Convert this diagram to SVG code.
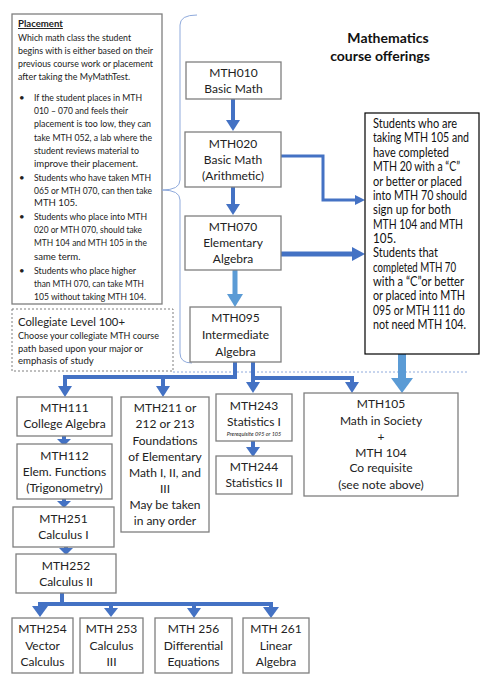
<svg xmlns="http://www.w3.org/2000/svg" width="488" height="681" viewBox="0 0 488 681">
<defs>
<style>
.box{fill:#fff;stroke:#7f7f7f;stroke-width:1.3}
.t{font-family:Lato,"Liberation Sans",sans-serif;font-size:12px;fill:#222;text-anchor:middle}
.p{font-family:Lato,"Liberation Sans",sans-serif;font-size:9.6px;fill:#222}
.n{font-family:Lato,"Liberation Sans",sans-serif;font-size:12.4px;fill:#111}
.dk{stroke:#4472c4;fill:none}
.lt{stroke:#5b9bd5;fill:none}
.hd{fill:#4472c4}
.hl{fill:#5b9bd5}
</style>
</defs>
<rect width="488" height="681" fill="#fff"/>

<g id="title">
<text x="388" y="43" font-family="Lato,'Liberation Sans',sans-serif" font-weight="bold" font-size="14" text-anchor="middle" fill="#111">Mathematics</text>
<text x="380" y="61" font-family="Lato,'Liberation Sans',sans-serif" font-weight="bold" font-size="14" text-anchor="middle" fill="#111">course offerings</text>
</g>

<g id="placement">
<rect x="12" y="14" width="150" height="290" class="box"/>
<text x="18" y="27" class="p" font-weight="bold" text-decoration="underline">Placement</text>
<text class="p" x="18" y="41" textLength="113" lengthAdjust="spacingAndGlyphs">Which math class the student</text>
<text class="p" x="18" y="54" textLength="135" lengthAdjust="spacingAndGlyphs">begins with is either based on their</text>
<text class="p" x="18" y="67" textLength="135" lengthAdjust="spacingAndGlyphs">previous course work or placement</text>
<text class="p" x="18" y="80" textLength="112" lengthAdjust="spacingAndGlyphs">after taking the MyMathTest.</text>
<g class="p">
<text x="19" y="101">•</text><text x="19" y="181">•</text><text x="19" y="220">•</text><text x="19" y="274">•</text>
</g>
<text class="p" x="34" y="101" textLength="108" lengthAdjust="spacingAndGlyphs">If the student places in MTH</text>
<text class="p" x="34" y="114" textLength="94" lengthAdjust="spacingAndGlyphs">010 – 070 and feels their</text>
<text class="p" x="34" y="127" textLength="117" lengthAdjust="spacingAndGlyphs">placement is too low, they can</text>
<text class="p" x="34" y="141" textLength="118" lengthAdjust="spacingAndGlyphs">take MTH 052, a lab where the</text>
<text class="p" x="34" y="154" textLength="105" lengthAdjust="spacingAndGlyphs">student reviews material to</text>
<text class="p" x="34" y="167" textLength="104" lengthAdjust="spacingAndGlyphs">improve their placement.</text>
<text class="p" x="34" y="181" textLength="117" lengthAdjust="spacingAndGlyphs">Students who have taken MTH</text>
<text class="p" x="34" y="194" textLength="118" lengthAdjust="spacingAndGlyphs">065 or MTH 070, can then take</text>
<text class="p" x="34" y="206">MTH 105.</text>
<text class="p" x="34" y="220" textLength="113" lengthAdjust="spacingAndGlyphs">Students who place into MTH</text>
<text class="p" x="34" y="233" textLength="108" lengthAdjust="spacingAndGlyphs">020 or MTH 070, should take</text>
<text class="p" x="34" y="246" textLength="113" lengthAdjust="spacingAndGlyphs">MTH 104 and MTH 105 in the</text>
<text class="p" x="34" y="260">same term.</text>
<text class="p" x="34" y="274" textLength="102" lengthAdjust="spacingAndGlyphs">Students who place higher</text>
<text class="p" x="34" y="287" textLength="110" lengthAdjust="spacingAndGlyphs">than MTH 070, can take MTH</text>
<text class="p" x="34" y="300" textLength="112" lengthAdjust="spacingAndGlyphs">105 without taking MTH 104.</text>
</g>

<g id="collegiate">
<rect x="12" y="309" width="161" height="62" fill="#fff" stroke="#7f7f7f" stroke-width="1" stroke-dasharray="2,2"/>
<text x="18" y="326" font-family="Lato,'Liberation Sans',sans-serif" font-size="12" fill="#222" textLength="107" lengthAdjust="spacingAndGlyphs">Collegiate Level 100+</text>
<text class="p" x="18" y="339" textLength="141" lengthAdjust="spacingAndGlyphs">Choose your collegiate MTH course</text>
<text class="p" x="18" y="352" textLength="125" lengthAdjust="spacingAndGlyphs">path based upon your major or</text>
<text class="p" x="18" y="364">emphasis of study</text>
</g>

<g id="brace">
<path d="M197,15 Q180,15 180,25 L180,180 Q180,190 162,190 Q180,190 180,200 L180,353 Q180,363 192,363" fill="none" stroke="#8faadc" stroke-width="1"/>
<line x1="173" y1="372" x2="468" y2="372" stroke="#8faadc" stroke-width="1" stroke-dasharray="2,2"/>
</g>

<g id="connectors">
<line x1="233" y1="99" x2="233" y2="121" class="dk" stroke-width="4"/>
<polygon points="226,120 240,120 233,131" class="hd"/>
<line x1="233" y1="187" x2="233" y2="205" class="dk" stroke-width="4"/>
<polygon points="226,204 240,204 233,215" class="hd"/>
<line x1="235" y1="270" x2="235" y2="295" class="lt" stroke-width="5"/>
<polygon points="227,294 243,294 235,307" class="hl"/>
<polyline points="281,156 323,156 323,200 356,200" class="dk" stroke-width="3"/>
<polygon points="355,195 365,200 355,205" class="hd"/>
<line x1="281" y1="254" x2="353" y2="254" class="dk" stroke-width="5"/>
<polygon points="352,247 365,254 352,261" class="hd"/>
<line x1="402" y1="354" x2="402" y2="379" class="lt" stroke-width="8"/>
<polygon points="391,378 413,378 402,393" class="hl"/>
<polyline points="235,362 235,377 65,377 65,387" class="dk" stroke-width="4"/>
<polygon points="58,386 72,386 65,397" class="hd"/>
<line x1="163" y1="377" x2="163" y2="387" class="dk" stroke-width="4"/>
<polygon points="156,386 170,386 163,397" class="hd"/>
<line x1="253" y1="362" x2="253" y2="383" class="dk" stroke-width="4"/>
<polygon points="246,382 260,382 253,393" class="hd"/>
<polyline points="253,378 352,378 352,383" class="dk" stroke-width="4"/>
<polygon points="345,382 359,382 352,393" class="hd"/>
<line x1="253" y1="441" x2="253" y2="448" class="dk" stroke-width="4"/>
<polygon points="246,447 260,447 253,457" class="hd"/>
<line x1="64" y1="436" x2="64" y2="440" class="dk" stroke-width="4"/>
<polygon points="57,439 71,439 64,446" class="hd"/>
<line x1="64" y1="499" x2="64" y2="502" class="dk" stroke-width="4"/>
<polygon points="57,501 71,501 64,508" class="hd"/>
<line x1="66" y1="547" x2="66" y2="549" class="dk" stroke-width="4"/>
<polygon points="59,548 73,548 66,555" class="hd"/>
<polyline points="62,593 62,605" class="dk" stroke-width="4"/>
<polyline points="40,607 40,604 271,604 271,608" class="dk" stroke-width="4"/>
<polygon points="32,606 48,606 40,617" class="hd"/>
<line x1="111" y1="604" x2="111" y2="609" class="dk" stroke-width="4"/>
<polygon points="104,608 118,608 111,617" class="hd"/>
<line x1="194" y1="604" x2="194" y2="609" class="dk" stroke-width="4"/>
<polygon points="187,608 201,608 194,618" class="hd"/>
<polygon points="263,607 279,607 271,618" class="hd"/>
</g>

<g id="mth010"><rect x="186" y="62" width="95" height="37" class="box"/>
<text class="t" x="233.5" y="77">MTH010</text><text class="t" x="233.5" y="93">Basic Math</text></g>
<g id="mth020"><rect x="185" y="132" width="96" height="55" class="box"/>
<text class="t" x="233" y="148">MTH020</text><text class="t" x="233" y="164">Basic Math</text><text class="t" x="233" y="180">(Arithmetic)</text></g>
<g id="mth070"><rect x="185" y="216" width="96" height="54" class="box"/>
<text class="t" x="233" y="231">MTH070</text><text class="t" x="233" y="247">Elementary</text><text class="t" x="233" y="263">Algebra</text></g>
<g id="mth095"><rect x="190" y="307" width="91" height="55" class="box"/>
<text class="t" x="235.5" y="322">MTH095</text><text class="t" x="235.5" y="339">Intermediate</text><text class="t" x="235.5" y="356">Algebra</text></g>

<g id="note"><rect x="365" y="113" width="114" height="241" fill="#fff" stroke="#000" stroke-width="1.2"/>
<text class="n" x="373" y="128" textLength="84" lengthAdjust="spacingAndGlyphs">Students who are</text>
<text class="n" x="373" y="142" textLength="96" lengthAdjust="spacingAndGlyphs">taking MTH 105 and</text>
<text class="n" x="373" y="157" textLength="76" lengthAdjust="spacingAndGlyphs">have completed</text>
<text class="n" x="373" y="171" textLength="87" lengthAdjust="spacingAndGlyphs">MTH 20 with a “C”</text>
<text class="n" x="373" y="186" textLength="89" lengthAdjust="spacingAndGlyphs">or better or placed</text>
<text class="n" x="373" y="200" textLength="94" lengthAdjust="spacingAndGlyphs">into MTH 70 should</text>
<text class="n" x="373" y="214" textLength="78" lengthAdjust="spacingAndGlyphs">sign up for both</text>
<text class="n" x="373" y="229" textLength="90" lengthAdjust="spacingAndGlyphs">MTH 104 and MTH</text>
<text class="n" x="373" y="243" textLength="23" lengthAdjust="spacingAndGlyphs">105.</text>
<text class="n" x="373" y="257" textLength="65" lengthAdjust="spacingAndGlyphs">Students that</text>
<text class="n" x="373" y="272" textLength="83" lengthAdjust="spacingAndGlyphs">completed MTH 70</text>
<text class="n" x="373" y="286" textLength="91" lengthAdjust="spacingAndGlyphs">with a “C”or better</text>
<text class="n" x="373" y="300" textLength="92" lengthAdjust="spacingAndGlyphs">or placed into MTH</text>
<text class="n" x="373" y="315" textLength="92" lengthAdjust="spacingAndGlyphs">095 or MTH 111 do</text>
<text class="n" x="373" y="329" textLength="93" lengthAdjust="spacingAndGlyphs">not need MTH 104.</text>
</g>

<g id="mth111"><rect x="17" y="397" width="95" height="39" class="box"/>
<text class="t" x="64.5" y="412">MTH111</text><text class="t" x="64.5" y="428">College Algebra</text></g>
<g id="mth211"><rect x="121" y="397" width="88" height="135" class="box"/>
<text class="t" x="165" y="412">MTH211 or</text><text class="t" x="165" y="428">212 or 213</text><text class="t" x="165" y="445">Foundations</text><text class="t" x="165" y="461">of Elementary</text><text class="t" x="165" y="477">Math I, II, and</text><text class="t" x="165" y="493">III</text><text class="t" x="165" y="509">May be taken</text><text class="t" x="165" y="525">in any order</text></g>
<g id="mth243"><rect x="216" y="394" width="76" height="47" class="box"/>
<text class="t" x="254" y="410">MTH243</text><text class="t" x="254" y="426">Statistics I</text>
<text x="254" y="436" font-family="Lato,'Liberation Sans',sans-serif" font-size="5.5" font-style="italic" text-anchor="middle" fill="#222">Prerequisite 095 or 105</text></g>
<g id="mth244"><rect x="216" y="456" width="76" height="38" class="box"/>
<text class="t" x="254" y="471">MTH244</text><text class="t" x="254" y="487">Statistics II</text></g>
<g id="mth105"><rect x="304" y="393" width="154" height="103" class="box"/>
<text class="t" x="381" y="408">MTH105</text><text class="t" x="381" y="425">Math in Society</text><text class="t" x="381" y="441">+</text><text class="t" x="381" y="457">MTH 104</text><text class="t" x="381" y="472">Co requisite</text><text class="t" x="381" y="489">(see note above)</text></g>
<g id="mth112"><rect x="17" y="444" width="95" height="55" class="box"/>
<text class="t" x="64.5" y="460">MTH112</text><text class="t" x="64.5" y="476">Elem. Functions</text><text class="t" x="64.5" y="492">(Trigonometry)</text></g>
<g id="mth251"><rect x="13" y="507" width="101" height="40" class="box"/>
<text class="t" x="63.5" y="523">MTH251</text><text class="t" x="63.5" y="539">Calculus I</text></g>
<g id="mth252"><rect x="16" y="554" width="100" height="39" class="box"/>
<text class="t" x="66" y="570">MTH252</text><text class="t" x="66" y="586">Calculus II</text></g>
<g id="mth254"><rect x="12" y="618" width="61" height="55" class="box"/>
<text class="t" x="42.5" y="633">MTH254</text><text class="t" x="42.5" y="650">Vector</text><text class="t" x="42.5" y="666">Calculus</text></g>
<g id="mth253"><rect x="80" y="618" width="63" height="55" class="box"/>
<text class="t" x="111.5" y="633">MTH 253</text><text class="t" x="111.5" y="650">Calculus</text><text class="t" x="111.5" y="666">III</text></g>
<g id="mth256"><rect x="155" y="618" width="77" height="55" class="box"/>
<text class="t" x="193.5" y="633">MTH 256</text><text class="t" x="193.5" y="650">Differential</text><text class="t" x="193.5" y="666">Equations</text></g>
<g id="mth261"><rect x="243" y="618" width="66" height="55" class="box"/>
<text class="t" x="276" y="633">MTH 261</text><text class="t" x="276" y="650">Linear</text><text class="t" x="276" y="666">Algebra</text></g>
</svg>
